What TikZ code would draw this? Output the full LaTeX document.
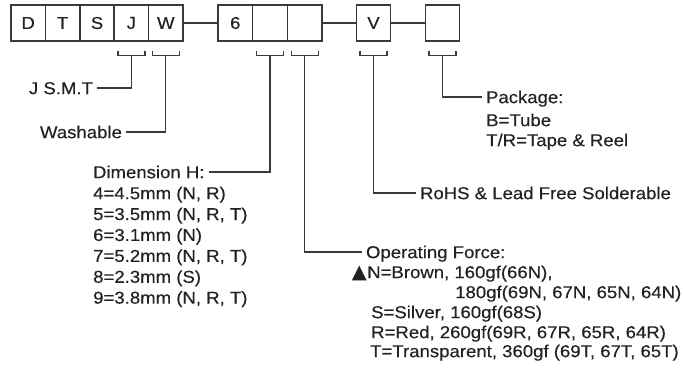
\documentclass[tikz,border=0pt]{standalone}
\usepackage{fontspec}
\setmainfont[FakeStretch=1.08,FakeBold=0.35]{Liberation Sans}
\newfontfamily\symfont{DejaVu Sans}
\definecolor{lc}{HTML}{3A3A3A}
\definecolor{tc}{HTML}{222222}
\begin{document}
\begin{tikzpicture}[x=1pt,y=-1pt,
  txt/.style={font=\fontsize{17.2}{20.8}\selectfont, text=tc, inner sep=0pt, text height=12.3pt, text depth=0pt, anchor=west},
  lbl/.style={txt, outer xsep=4.5pt, outer ysep=0pt},
  cell/.style={draw=lc, line width=1.3pt, minimum width=34.6pt, minimum height=36pt, inner sep=0pt, font=\fontsize{17.2}{20.8}\selectfont, text=tc},
  conn/.style={draw=lc, line width=1.2pt},
  brk/.style={draw=lc, line width=1.2pt}]
\useasboundingbox (0,0) rectangle (683,370);
% boxes
\node[cell] (b1) at (28.2,23) {D};
\node[cell] (b2) at (62.6,23) {T};
\node[cell] (b3) at (97.0,23) {S};
\node[cell] (b4) at (131.4,23) {J};
\node[cell] (b5) at (165.8,23) {W};
\node[cell] (b6) at (235.3,23) {6};
\node[cell] (b7) at (270.0,23) {};
\node[cell] (b8) at (304.7,23) {};
\node[cell] (b9) at (373.5,23) {V};
\node[cell] (b10) at (442.5,23) {};
\draw[conn] (b5.east) -- (b6.west);
\draw[conn] (b8.east) -- (b9.west);
\draw[conn] (b9.east) -- (b10.west);
% brackets
\foreach \b in {b4,b5,b7,b8,b9,b10}{
  \draw[brk] ([xshift=-13.5pt,yshift=-9pt]\b.south) -- ++(0,5) -- ++(27,0) -- ++(0,-5);
  \coordinate (k\b) at ([yshift=-14pt]\b.south);
}
% labels
\node[lbl] (jsmt) at (24.5,88) {J S.M.T};
\node[lbl] (wash) at (35.5,132) {Washable};
\node[lbl] (dimh) at (88.5,172) {Dimension H:};
\node[txt] (d4) at (93,193) {4=4.5mm (N, R)};
\node[txt] (d5) at (93,213.9) {5=3.5mm (N, R, T)};
\node[txt] (d6) at (93,234.8) {6=3.1mm (N)};
\node[txt] (d7) at (93,255.7) {7=5.2mm (N, R, T)};
\node[txt] (d8) at (93,276.6) {8=2.3mm (S)};
\node[txt] (d9) at (93,297.5) {9=3.8mm (N, R, T)};
\node[lbl] (pkg) at (481.5,97) {Package:};
\node[txt] (pk1) at (486,120) {B=Tube};
\node[txt] (pk2) at (486,140) {T/R=Tape \& Reel};
\node[lbl] (rohs) at (415.5,193) {RoHS \& Lead Free Solderable};
\node[lbl] (opf) at (361.5,252) {Operating Force:};
\node[txt, anchor=east] (tri) at (367,272) {\fontsize{19.5}{20}\symfont ▲};
\node[txt] (o1) at (367,272) {N=Brown, 160gf(66N),};
\node[txt] (o2) at (455,292) {180gf(69N, 67N, 65N, 64N)};
\node[txt] (o3) at (371,312) {S=Silver, 160gf(68S)};
\node[txt] (o4) at (371,332) {R=Red, 260gf(69R, 67R, 65R, 64R)};
\node[txt] (o5) at (370,351) {T=Transparent, 360gf (69T, 67T, 65T)};
% connectors
\draw[conn] (jsmt.east) -| (kb4);
\draw[conn] (wash.east) -| (kb5);
\draw[conn] (dimh.east) -| (kb7);
\draw[conn] (opf.west) -| (kb8);
\draw[conn] (rohs.west) -| (kb9);
\draw[conn] (pkg.west) -| (kb10);
\end{tikzpicture}
\end{document}
